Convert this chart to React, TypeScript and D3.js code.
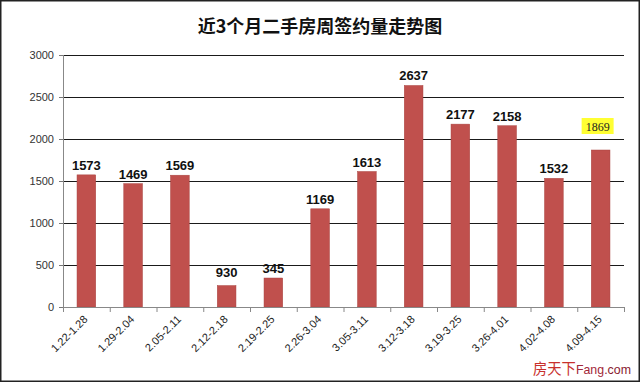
import React from "react";
import * as d3 from "d3";

const categories = ["1.22-1.28","1.29-2.04","2.05-2.11","2.12-2.18","2.19-2.25","2.26-3.04","3.05-3.11","3.12-3.18","3.19-3.25","3.26-4.01","4.02-4.08","4.09-4.15"];
const barValues = [1573, 1469, 1569, 255, 345, 1169, 1613, 2637, 2177, 2158, 1532, 1869];
const labelTexts = ["1573","1469","1569","930","345","1169","1613","2637","2177","2158","1532","1869"];
const yTicks = [0, 500, 1000, 1500, 2000, 2500, 3000];
const title = "近3个月二手房周签约量走势图";

const W = 640, H = 382;
const left = 63, right = 624, top = 55, bottom = 307;

export default function App() {
  const x = d3.scaleBand<string>().domain(categories).range([left, right]).padding(0);
  const y = d3.scaleLinear().domain([0, 3000]).range([bottom, top]);
  const bw = x.bandwidth() * 0.4;
  const sans = "'Liberation Sans', Arial, sans-serif";
  return (
    <div style={{ position: "fixed", left: 0, top: 0 }}>
      <svg width={W} height={H} style={{ display: "block", background: "#fff" }}>
        <rect x={0.75} y={0.75} width={W - 1.5} height={H - 1.5} fill="#fff" stroke="#222" strokeWidth={1.5} />
        <text x={320} y={33} textAnchor="middle" fontFamily="'Noto Sans CJK SC', sans-serif" fontWeight="bold" fontSize={18} fill="#111">{title}</text>
        {yTicks.map((t) => (
          <g key={t}>
            {t > 0 && <line x1={left} x2={right} y1={y(t) + 0.5} y2={y(t) + 0.5} stroke="#1a1a1a" strokeWidth={1} />}
            <line x1={left - 4} x2={left} y1={y(t) + 0.5} y2={y(t) + 0.5} stroke="#777" />
            <text x={54} y={y(t) + 4} textAnchor="end" fontFamily={sans} fontSize={11} fill="#333">{t}</text>
          </g>
        ))}
        <line x1={left + 0.5} x2={left + 0.5} y1={top} y2={bottom} stroke="#888" />
        {categories.map((c, i) => {
          const cx = (x(c) as number) + x.bandwidth() / 2;
          const v = barValues[i];
          const highlight = i === categories.length - 1;
          return (
            <g key={c}>
              <rect x={cx - bw / 2} y={y(v)} width={bw} height={bottom - y(v)} fill="#c0504d" stroke="#a94441" strokeWidth={0.5} />
              {highlight ? (
                <g>
                  <rect x={cx - 19} y={y(v) - 32} width={32} height={16} fill="#ffff33" />
                  <text x={cx - 3} y={y(v) - 19.5} textAnchor="middle" fontFamily="'Liberation Serif', serif" fontSize={12} fill="#222">{labelTexts[i]}</text>
                </g>
              ) : (
                <text x={cx} y={y(v) - (i === 3 ? 9 : 5)} textAnchor="middle" fontFamily={sans} fontWeight="bold" fontSize={13} fill="#111">{labelTexts[i]}</text>
              )}
              <text transform={`translate(${cx + 2},${bottom + 13}) rotate(-45)`} textAnchor="end" fontFamily={sans} fontSize={11} fill="#222">{c}</text>
            </g>
          );
        })}
        <line x1={left} x2={right} y1={bottom + 0.5} y2={bottom + 0.5} stroke="#888" />
        {d3.range(categories.length + 1).map((i) => {
          const tx = left + i * x.step();
          return <line key={i} x1={tx + 0.5} x2={tx + 0.5} y1={bottom} y2={bottom + 5} stroke="#888" />;
        })}
        <text x={533} y={374} stroke="#fff" strokeWidth={3} paintOrder="stroke" textLength={98} lengthAdjust="spacingAndGlyphs">
          <tspan fontFamily="'Noto Sans CJK SC', sans-serif" fontSize={15} fill="#c8302c">房天下</tspan>
          <tspan fontFamily="'Liberation Sans', Arial, sans-serif" fontSize={13} fill="#a3283a">Fang</tspan>
          <tspan fontFamily="'Liberation Sans', Arial, sans-serif" fontSize={13} fill="#8a2030">.com</tspan>
        </text>
      </svg>
    </div>
  );
}
